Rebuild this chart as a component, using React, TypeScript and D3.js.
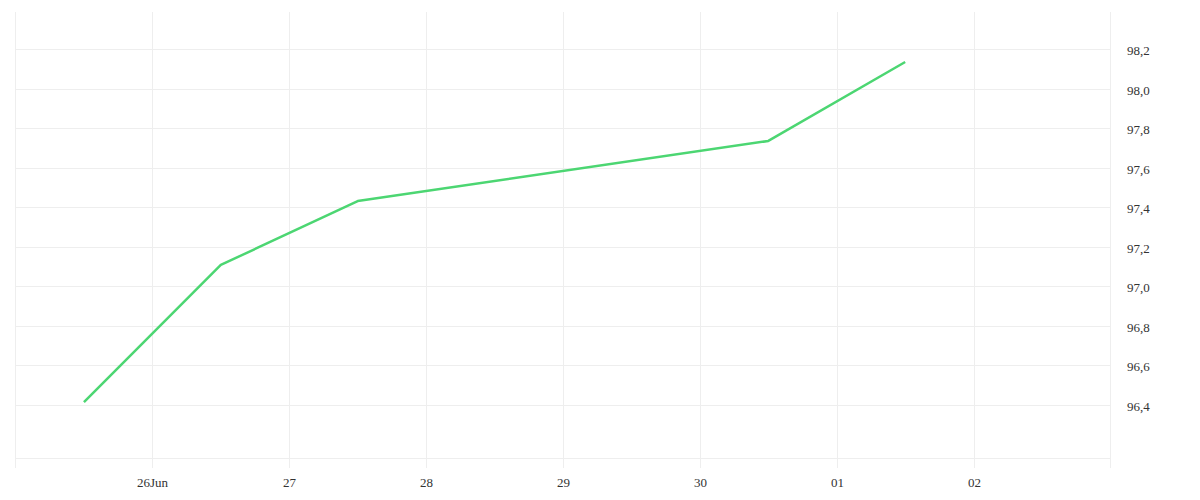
import { line, scaleLinear, scaleTime, timeFormat } from "d3";

const dates = ["2024-06-25T12:00", "2024-06-26T12:00", "2024-06-27T12:00", "2024-06-30T12:00", "2024-07-01T12:00"];
const values = [96.415, 97.108, 97.431, 97.735, 98.134];
const xTicks = ["2024-06-26", "2024-06-27", "2024-06-28", "2024-06-29", "2024-06-30", "2024-07-01", "2024-07-02"];
const yTicks = [96.4, 96.6, 96.8, 97.0, 97.2, 97.4, 97.6, 97.8, 98.0, 98.2];

const points = dates.map((d, i) => ({ date: new Date(d), value: values[i] }));

export default function App() {
  const width = 1200;
  const height = 500;
  const left = 15.5;
  const right = 1110.5;
  const top = 12;
  const bottom = 458;
  const tickEnd = 468;

  const x = scaleTime()
    .domain([new Date("2024-06-25T00:00"), new Date("2024-07-03T00:00")])
    .range([left, right]);

  const y = scaleLinear().domain([96.132, 98.387]).range([bottom, top]);

  const path = line<(typeof points)[number]>()
    .x((p) => x(p.date))
    .y((p) => y(p.value))(points);

  const dayFmt = timeFormat("%d");
  const firstFmt = timeFormat("%d%b");
  const grid = "#eeeeee";
  const font = "'Liberation Serif', serif";

  return (
    <svg
      width={width}
      height={height}
      style={{ position: "absolute", left: 0, top: 0, display: "block", background: "#fff" }}
    >
      {yTicks.map((t) => (
        <line key={t} x1={left} x2={right} y1={Math.round(y(t)) + 0.5} y2={Math.round(y(t)) + 0.5} stroke={grid} />
      ))}
      <line x1={left} x2={right} y1={bottom + 0.5} y2={bottom + 0.5} stroke={grid} />
      {[left, right].map((v) => (
        <line key={v} x1={v} x2={v} y1={top} y2={tickEnd} stroke={grid} />
      ))}
      {xTicks.map((t, i) => {
        const d = new Date(t + "T00:00");
        const px = Math.round(x(d)) + 0.5;
        return (
          <g key={t}>
            <line x1={px} x2={px} y1={top} y2={tickEnd} stroke={grid} />
            <text x={px} y={487} textAnchor="middle" fontSize="13" fill="#333" fontFamily={font}>
              {i === 0 ? firstFmt(d) : dayFmt(d)}
            </text>
          </g>
        );
      })}
      {yTicks.map((t) => (
        <text key={t} x={1127} y={y(t) + 6} fontSize="13" fill="#333" fontFamily={font}>
          {t.toFixed(1).replace(".", ",")}
        </text>
      ))}
      {path ? (
        <path d={path} fill="none" stroke="#4cd672" strokeWidth="2.5" strokeLinejoin="round" />
      ) : null}
    </svg>
  );
}
